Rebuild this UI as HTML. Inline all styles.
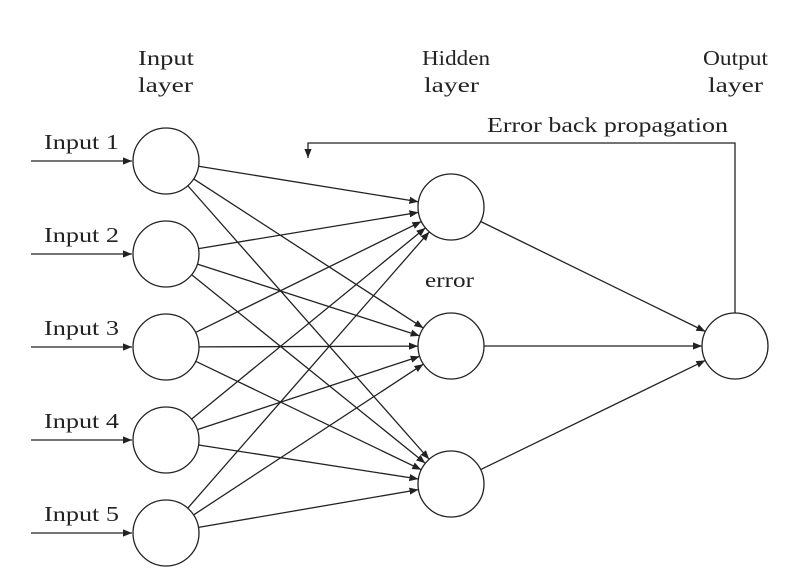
<!DOCTYPE html>
<html><head><meta charset="utf-8"><style>
html,body{margin:0;padding:0;background:#fff;}
svg{display:block;}
text{font-family:"Liberation Serif",serif;font-size:21px;fill:#222;}
</style></head><body>
<svg id="s" width="800" height="588" viewBox="0 0 800 588" xmlns="http://www.w3.org/2000/svg">
<defs><marker id="a" viewBox="0 0 10 10" refX="10" refY="5" markerWidth="9" markerHeight="9" markerUnits="userSpaceOnUse" orient="auto"><path d="M0,1 L10,5 L0,9 z" fill="#222"/></marker></defs>
<g lengthAdjust="spacingAndGlyphs">
<text x="138" y="65" textLength="56" lengthAdjust="spacingAndGlyphs">Input</text><text x="138" y="92" textLength="55" lengthAdjust="spacingAndGlyphs">layer</text>
<text x="422" y="65" textLength="68" lengthAdjust="spacingAndGlyphs">Hidden</text><text x="424" y="92" textLength="55" lengthAdjust="spacingAndGlyphs">layer</text>
<text x="703" y="65" textLength="65" lengthAdjust="spacingAndGlyphs">Output</text><text x="708" y="92" textLength="55" lengthAdjust="spacingAndGlyphs">layer</text>
<text x="425" y="287" textLength="49" lengthAdjust="spacingAndGlyphs">error</text>
<text x="487" y="132" textLength="241" lengthAdjust="spacingAndGlyphs">Error back propagation</text>
</g>
<g id="g" stroke="#222" stroke-width="1.3" fill="none"></g>
<polyline points="735,313 735,143 308,143 308,158" stroke="#222" stroke-width="1.3" fill="none" marker-end="url(#a)"/>
</svg>
<script>
var g=document.getElementById('g'),ns='http://www.w3.org/2000/svg',r=33;
var I=[161,254,347,440,533],H=[207,346,484];
function L(x1,y1,x2,y2,m){var l=document.createElementNS(ns,'line');l.setAttribute('x1',x1);l.setAttribute('y1',y1);l.setAttribute('x2',x2);l.setAttribute('y2',y2);if(m)l.setAttribute('marker-end','url(#a)');g.appendChild(l);}
function C(x,y){var c=document.createElementNS(ns,'circle');c.setAttribute('cx',x);c.setAttribute('cy',y);c.setAttribute('r',r);g.appendChild(c);}
function E(x1,y1,x2,y2){var dx=x2-x1,dy=y2-y1,d=Math.hypot(dx,dy);L(x1+dx*r/d,y1+dy*r/d,x2-dx*r/d,y2-dy*r/d,1);}
var s=document.getElementById('s');
I.forEach(function(y,i){C(166,y);L(31,y,132,y,1);var t=document.createElementNS(ns,'text');t.setAttribute('x',44);t.setAttribute('y',y-12);t.setAttribute('textLength',75);t.setAttribute('lengthAdjust','spacingAndGlyphs');t.textContent='Input '+(i+1);s.appendChild(t);H.forEach(function(h){E(166,y,451,h);});});
H.forEach(function(h){C(451,h);E(451,h,735,346);});
C(735,346);
</script>
</body></html>
